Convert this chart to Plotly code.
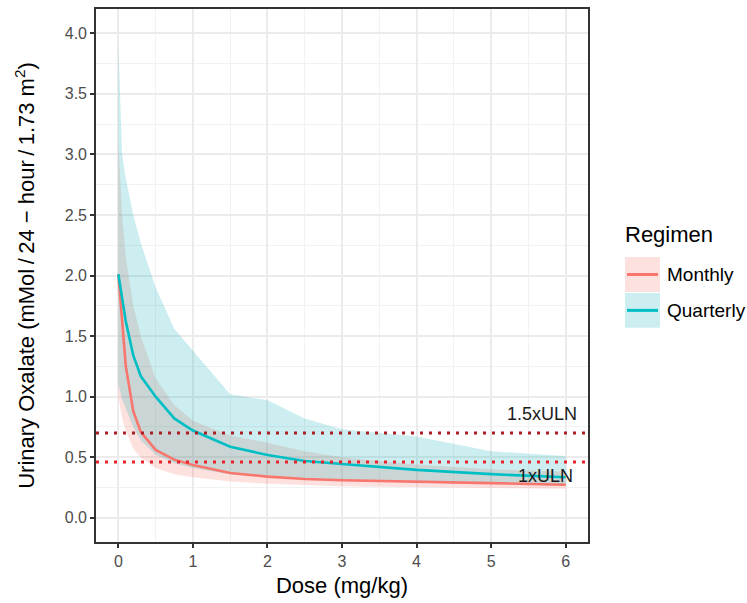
import plotly.graph_objects as go

# ---------------- data ----------------
dose = [0, 0.05, 0.1, 0.2, 0.3, 0.5, 0.75, 1, 1.5, 2, 2.5, 3, 4, 5, 6]

monthly_median = [2.01, 1.60, 1.25, 0.88, 0.71, 0.56, 0.48, 0.435, 0.37, 0.34, 0.32, 0.31, 0.30, 0.286, 0.272]
monthly_lower = [1.00, 0.82, 0.72, 0.57, 0.50, 0.41, 0.36, 0.335, 0.30, 0.28, 0.27, 0.26, 0.25, 0.245, 0.24]
monthly_upper = [3.10, 2.50, 2.15, 1.75, 1.50, 1.15, 0.93, 0.80, 0.68, 0.62, 0.55, 0.50, 0.44, 0.40, 0.38]

quarterly_median = [2.01, 1.80, 1.62, 1.34, 1.17, 1.00, 0.82, 0.72, 0.587, 0.518, 0.469, 0.444, 0.395, 0.36, 0.335]
quarterly_lower = [1.10, 0.98, 0.90, 0.75, 0.64, 0.52, 0.45, 0.41, 0.36, 0.335, 0.315, 0.305, 0.29, 0.28, 0.265]
quarterly_upper = [3.92, 3.00, 2.80, 2.50, 2.27, 1.90, 1.56, 1.38, 1.02, 0.97, 0.82, 0.73, 0.67, 0.55, 0.51]

regimens = ["Monthly", "Quarterly"]
uln_values = [0.70, 0.46]
uln_labels = ["1.5xULN", "1xULN"]

x_ticks = [0, 1, 2, 3, 4, 5, 6]
y_ticks = [0, 0.5, 1, 1.5, 2, 2.5, 3, 3.5, 4]

# ---------------- styles ----------------
line_colors = {"Monthly": "#F8766D", "Quarterly": "#00BFC4"}
fill_colors = {"Monthly": "rgba(245,105,95,0.2)", "Quarterly": "rgba(0,168,178,0.2)"}
uln_colors = ["#A91F24", "#E6232A"]
FONT = "Liberation Sans, Arial, sans-serif"

series = {
    "Monthly": (monthly_median, monthly_lower, monthly_upper),
    "Quarterly": (quarterly_median, quarterly_lower, quarterly_upper),
}

fig = go.Figure()

# ribbons
for reg in regimens:
    med, lo, hi = series[reg]
    fig.add_trace(go.Scatter(
        x=dose + dose[::-1], y=hi + lo[::-1],
        fill="toself", fillcolor=fill_colors[reg],
        line=dict(width=0), mode="lines",
        name=reg, showlegend=False, hoverinfo="skip",
    ))

# median lines
for reg in regimens:
    med, lo, hi = series[reg]
    fig.add_trace(go.Scatter(
        x=dose, y=med, mode="lines",
        line=dict(color=line_colors[reg], width=2.6),
        name=reg, showlegend=False,
    ))

# ULN reference lines
for val, col in zip(uln_values, uln_colors):
    fig.add_hline(y=val, line=dict(color=col, width=3, dash="3px,6px"), layer="above")

# ULN labels
fig.add_annotation(x=6.18, y=uln_values[0] + 0.155, xref="x", yref="y",
                   text=uln_labels[0], showarrow=False, xanchor="right", yanchor="middle",
                   font=dict(family=FONT, size=18, color="#1A1A1A"))
fig.add_annotation(x=6.13, y=uln_values[1] - 0.115, xref="x", yref="y",
                   text=uln_labels[1], showarrow=False, xanchor="right", yanchor="middle",
                   font=dict(family=FONT, size=18, color="#1A1A1A"))

# ---------------- manual legend (ggplot style keys) ----------------
PW, PH = 492.0, 535.0
def px2paper_x(px):
    return (px - 96.0) / PW
def px2paper_y(py):
    return (542.0 - py) / PH

fig.add_annotation(x=px2paper_x(623), y=px2paper_y(233), xref="paper", yref="paper",
                   text="Regimen", showarrow=False, xanchor="left", yanchor="middle",
                   font=dict(family=FONT, size=22, color="#000000"))
key_tops = [256, 292]
for reg, top in zip(regimens, key_tops):
    fig.add_shape(type="rect", xref="paper", yref="paper",
                  x0=px2paper_x(625), x1=px2paper_x(660),
                  y0=px2paper_y(top + 35), y1=px2paper_y(top),
                  fillcolor=fill_colors[reg], line=dict(width=0))
    fig.add_shape(type="line", xref="paper", yref="paper",
                  x0=px2paper_x(627), x1=px2paper_x(658),
                  y0=px2paper_y(top + 17.5), y1=px2paper_y(top + 17.5),
                  line=dict(color=line_colors[reg], width=3))
    fig.add_annotation(x=px2paper_x(665), y=px2paper_y(top + 17.5), xref="paper", yref="paper",
                       text=reg, showarrow=False, xanchor="left", yanchor="middle",
                       font=dict(family=FONT, size=19, color="#000000"))

axis_common = dict(
    showline=True, mirror=True, linecolor="#333333", linewidth=1.6,
    ticks="outside", ticklen=4, tickwidth=1.6, tickcolor="#333333",
    tickfont=dict(family=FONT, size=16, color="#4D4D4D"),
    showgrid=True, gridcolor="#EBEBEB", gridwidth=2.4,
    zeroline=False,
)

fig.update_layout(
    width=747, height=603,
    margin=dict(l=96, r=159, t=7, b=61),
    paper_bgcolor="white", plot_bgcolor="white",
    showlegend=False,
    font=dict(family=FONT, color="#000000"),
    xaxis=dict(
        range=[-0.3, 6.3], tickmode="array", tickvals=x_ticks,
        minor=dict(dtick=0.5, showgrid=True, gridcolor="#F2F2F2", gridwidth=1.2),
        title=dict(text="Dose (mg/kg)", font=dict(family=FONT, size=22, color="#000000"), standoff=9),
        **axis_common,
    ),
    yaxis=dict(
        range=[-0.2, 4.2], tickmode="array", tickvals=y_ticks,
        ticktext=[f"{v:.1f}" for v in y_ticks],
        minor=dict(dtick=0.25, showgrid=True, gridcolor="#F2F2F2", gridwidth=1.2),
        title=dict(text="Urinary Oxalate (mMol\u2009/\u200924 \u2212 hour\u2009/\u20091.73 m<sup>2</sup>)",
                   font=dict(family=FONT, size=22, color="#000000"), standoff=24),
        **axis_common,
    ),
)

fig.write_html("out.html")
